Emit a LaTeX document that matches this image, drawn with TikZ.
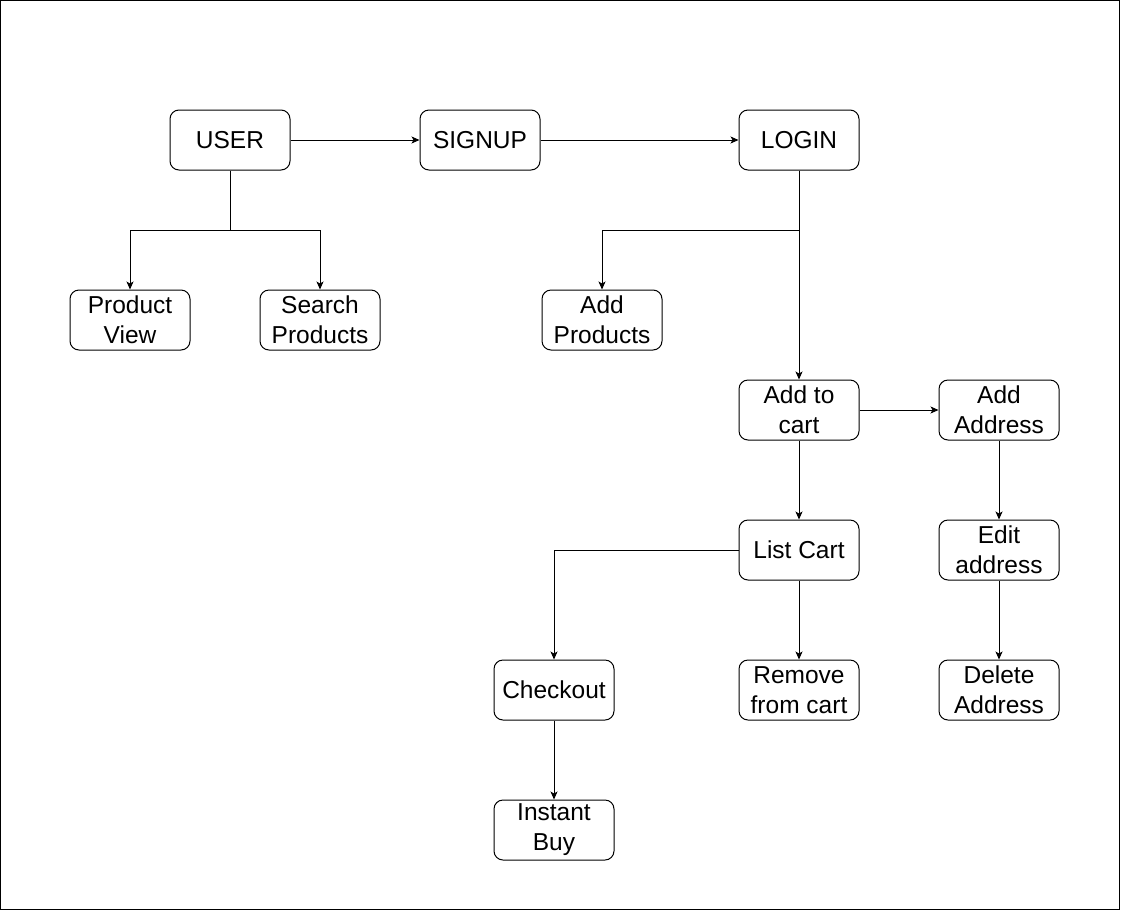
\documentclass[tikz,border=0pt]{standalone}
\usepackage{fontspec}
\setmainfont{Liberation Sans}
\usetikzlibrary{calc,arrows.meta}

\begin{document}
\begin{tikzpicture}[x=1pt, y=-1pt, line width=1pt]
    \tikzstyle{every node}=[draw, rounded corners=9pt, minimum width=120, minimum height=60, inner sep=1, align=center, font=\fontsize{24.5}{30}\selectfont]
    \tikzstyle{arr}=[-{Stealth[length=8pt, width=7pt, inset=2pt]}]
    \useasboundingbox (0,0) rectangle (1121,911);
    \draw (0.5,0.5) rectangle (1119.5,909.5);
    % top row
    \node (USER) at (230,140) {USER};
    \node (SIGNUP) at (480,140) {SIGNUP};
    \node (LOGIN) at (799,140) {LOGIN};
    % below user and login
    \node (PV) at ($(USER)+(-100,180)$) {Product\\View};
    \node (SP) at ($(USER)+(90,180)$) {Search\\Products};
    \node (AP) at ($(LOGIN)+(-197,180)$) {Add\\Products};
    % cart and address
    \node (ATC) at ($(LOGIN)+(0,270)$) {Add to\\cart};
    \node (AA) at ($(ATC)+(200,0)$) {Add\\Address};
    \node (LC) at ($(ATC)+(0,140)$) {List Cart};
    \node (EA) at ($(AA)+(0,140)$) {Edit\\address};
    \node (RFC) at ($(LC)+(0,140)$) {Remove\\from cart};
    \node (DA) at ($(EA)+(0,140)$) {Delete\\Address};
    \node (CHK) at ($(LC)+(-245,140)$) {Checkout};
    \node (IB) at ($(CHK)+(0,140)$) {Instant\\Buy};
    \draw[arr] (USER) -- (SIGNUP);
    \draw[arr] (SIGNUP) -- (LOGIN);
    \draw[arr] (USER.south) -- ++(0,60) -| (PV.north);
    \draw[arr] (USER.south) -- ++(0,60) -| (SP.north);
    \draw[arr] (LOGIN.south) -- ++(0,60) -| (AP.north);
    \draw[arr] (LOGIN) -- (ATC);
    \draw[arr] (ATC) -- (AA);
    \draw[arr] (ATC) -- (LC);
    \draw[arr] (AA) -- (EA);
    \draw[arr] (EA) -- (DA);
    \draw[arr] (LC) -- (RFC);
    \draw[arr] (LC.west) -| (CHK.north);
    \draw[arr] (CHK) -- (IB);
\end{tikzpicture}
\end{document}
